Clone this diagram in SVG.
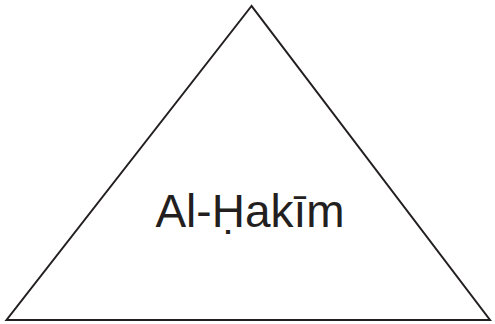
<svg xmlns="http://www.w3.org/2000/svg" width="495" height="324" viewBox="0 0 495 324">
<style>
.shape{fill:#fff;stroke:#231f20;stroke-width:2}
.lbl{font-family:"Liberation Sans",Arial,sans-serif;font-size:46px;fill:#231f20;text-anchor:middle}
</style>
<rect width="495" height="324" fill="#fff"/>
<g id="triangle">
<polygon class="shape" points="251.5,6 6.5,320 490,320"/>
<text class="lbl" x="250" y="227">Al-Ḥakīm</text>
</g>
</svg>
